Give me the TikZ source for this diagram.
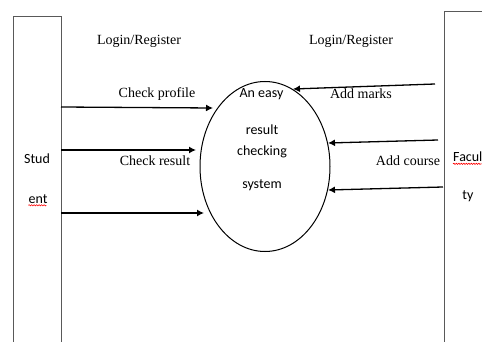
\documentclass[tikz,border=0pt]{standalone}
\usepackage{fontspec}
\setmainfont{Liberation Serif}
\newfontfamily\sysfont{Carlito}
\usetikzlibrary{arrows.meta,positioning,shapes.geometric,decorations.pathmorphing}
\tikzset{
flow/.style={-{Latex[length=7pt,width=7pt]},line width=1.3pt},
lbl/.style={anchor=base,inner sep=0pt,font=\fontsize{14}{16}\selectfont},
sys/.style={anchor=base,inner sep=0pt,font=\sysfont\fontsize{14}{16}\selectfont},
squig/.style={red,line width=.6pt,decorate,decoration={snake,amplitude=.6pt,segment length=2.5pt}},
wall/.style={gray!70!black,line width=.8pt}
}
\begin{document}
\begin{tikzpicture}[x=1pt,y=-1pt]
\useasboundingbox (0,0) rectangle (482,342);
\draw[wall] (13,342) -- (13,16) -- (61,16) -- (61,342);
\draw[wall] (444,342) -- (444,11) -- (482,11);
\node[draw,ellipse,line width=1pt,minimum width=130pt,minimum height=170pt](c) at (265,166.5){};
\node[sys](c1) at (261.5,97.5){An easy};
\node[sys](c2) at (262,135){result};
\node[sys](c3) at (262,156){checking};
\node[sys](c4) at (262,188){system};
\node[sys](st1) at (37,164){Stud};
\node[sys](st2) at (38,203){ent};
\node[sys,anchor=base west](fa1) at (453,161){Facul};
\node[sys](fa2) at (468,200){ty};
\draw[squig] (st2.south west) ++(0,2) -- ++(18,0);
\draw[squig] (fa1.south west) ++(0,2.5) -- ++(29,0);
\node[lbl](l1) at (139,45){Login/Register};
\node[lbl](l2) at (351,45){Login/Register};
\node[lbl](t1) at (157,98){Check profile};
\node[lbl](t2) at (155,166){Check result};
\node[lbl](t3) at (361,99){Add marks};
\node[lbl](t4) at (408,166){Add course};
\coordinate (s1) at (61,107);
\coordinate (s2) at (61,150);
\coordinate (s3) at (61,213);
\coordinate (e1) at (213,108);
\coordinate (e2) at (196,150);
\coordinate (e3) at (204,213);
\coordinate (f1) at (435,84);
\coordinate (f2) at (438,140);
\coordinate (f3) at (443,187);
\coordinate (g1) at (293,89);
\coordinate (g2) at (328,143);
\coordinate (g3) at (328,190);
\draw[flow] (s1) -- (e1);
\draw[flow] (s2) -- (e2);
\draw[flow] (s3) -- (e3);
\draw[flow] (f1) -- (g1);
\draw[flow] (f2) -- (g2);
\draw[flow] (f3) -- (g3);
\end{tikzpicture}
\end{document}
